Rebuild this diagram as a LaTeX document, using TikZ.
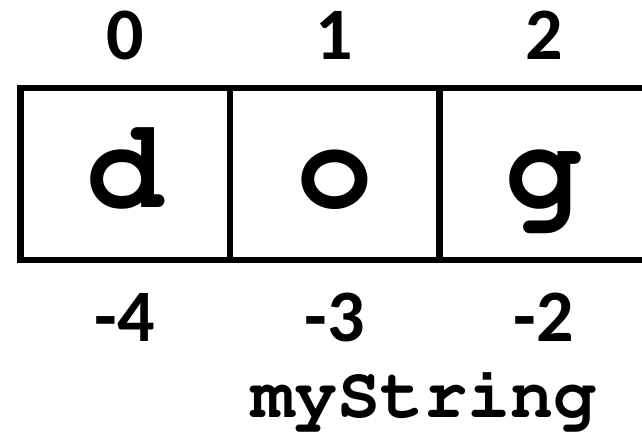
\documentclass[tikz,border=0pt]{standalone}
\usepackage[T1,TU]{fontenc}
\usepackage{fontspec}
\newfontfamily\calib{Carlito}[BoldFont={Carlito Bold}]
\newcommand{\crfont}{\fontencoding{T1}\fontfamily{pcr}\fontseries{b}\selectfont}
\begin{document}
\begin{tikzpicture}[x=1pt,y=-1pt,
  cell/.style={draw=black,line width=6.5pt,minimum width=209.5pt,minimum height=172pt,inner sep=0pt},
  chr/.style={anchor=base,inner sep=0pt,font=\crfont\fontsize{128}{128}\selectfont},
  idx/.style={anchor=base,inner sep=0pt,font=\calib\bfseries\fontsize{74}{74}\selectfont},
  lbl/.style={anchor=base,inner sep=0pt,font=\crfont\fontsize{72}{72}\selectfont}]
\useasboundingbox (0,0) rectangle (642,437);
\clip (0,0) rectangle (642,437);
\node[cell] (c0) at (125,174) {};
\node[cell] (c1) at (334.5,174) {};
\node[cell] (c2) at (544,174) {};
\node[chr] (d) at (125,207) {d};
\node[chr] (o) at (334.5,207) {o};
\node[chr] (g) at (544,207) {g};
\node[idx] (p0) at (125,59) {0};
\node[idx] (p1) at (334.5,59) {1};
\node[idx] (p2) at (544,59) {2};
\node[idx] (n4) at (125,341) {-4};
\node[idx] (n3) at (334.5,341) {-3};
\node[idx] (n2) at (544,341) {-2};
\node[lbl] (name) at (424,417) {myString};
\end{tikzpicture}
\end{document}
